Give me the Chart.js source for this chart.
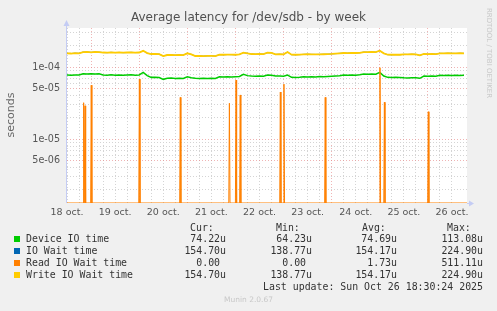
<!DOCTYPE html>
<html>
<head>
<meta charset="utf-8">
<script src="https://cdn.jsdelivr.net/npm/chart.js@4/dist/chart.umd.min.js"></script>
<style>
  body { margin: 0; background: #f0f0f0; }
  #wrap { position: relative; width: 497px; height: 311px; overflow: hidden; font-family: "DejaVu Sans", sans-serif; }
  #chart { position: absolute; left: 0; top: 0; }
  .txt { position: absolute; white-space: pre; font-weight: normal; }
  .mono { font-family: "DejaVu Sans Mono", monospace; font-size: 9.9px; color: #333; line-height: 12px; }
  .sq { position: absolute; width: 6px; height: 6px; }
</style>
</head>
<body>
<div id="wrap">
  <canvas id="chart" width="497" height="311"></canvas>
  <div class="txt" style="left:0;width:497px;top:10px;text-align:center;font-size:12px;color:#505050;">Average latency for /dev/sdb - by week</div>
  <div class="txt" style="left:-19px;top:108px;width:60px;height:14px;line-height:14px;text-align:center;font-size:11px;color:#666;transform:rotate(-90deg);">seconds</div>
  <div class="txt" style="left:441px;top:49px;width:96px;text-align:center;font-size:7px;color:#c8c8c8;transform:rotate(90deg);">RRDTOOL / TOBI OETIKER</div>
  <div class="txt" style="left:0;width:497px;top:295px;text-align:center;font-size:7.5px;color:#c8c8c8;">Munin 2.0.67</div>
  <div id="legend"></div>
</div>
<script>
// hours counted from 18 oct. 00:00, one sample every 2 hours starting at 18 oct. 12:00
const dayLabels = ['18 oct.', '19 oct.', '20 oct.', '21 oct.', '22 oct.', '23 oct.', '24 oct.', '25 oct.', '26 oct.'];
const yTickValues = [5e-6, 1e-5, 5e-5, 1e-4];
const yTickLabels = ['5e-06', '1e-05', '5e-05', '1e-04'];

const deviceIoTime = [
  7.74e-5, 7.70e-5, 7.78e-5, 7.74e-5,
  8.04e-5, 7.98e-5, 8.06e-5, 8.00e-5, 8.04e-5,
  7.76e-5, 7.70e-5, 7.80e-5, 7.72e-5, 7.78e-5, 7.68e-5, 7.75e-5, 7.80e-5, 7.72e-5, 7.76e-5,
  8.44e-5, 7.60e-5,
  7.19e-5, 7.24e-5, 7.16e-5, 6.75e-5,
  6.97e-5, 7.02e-5, 6.94e-5, 7.00e-5, 6.96e-5,
  7.33e-5, 7.10e-5,
  6.97e-5, 6.92e-5, 7.00e-5, 6.95e-5, 6.99e-5, 6.94e-5,
  7.33e-5, 7.28e-5, 7.36e-5, 7.30e-5, 7.35e-5, 7.40e-5,
  7.92e-5, 7.60e-5,
  7.50e-5, 7.46e-5, 7.54e-5, 7.48e-5,
  7.74e-5, 7.70e-5,
  7.50e-5, 7.54e-5, 7.47e-5, 7.74e-5,
  7.19e-5, 7.14e-5, 7.22e-5,
  7.33e-5, 7.28e-5, 7.36e-5, 7.30e-5, 7.38e-5, 7.32e-5, 7.40e-5, 7.45e-5, 7.52e-5, 7.58e-5,
  7.74e-5, 7.70e-5, 7.78e-5, 7.72e-5, 7.80e-5,
  7.99e-5, 7.94e-5, 8.02e-5, 7.97e-5,
  8.44e-5, 7.50e-5,
  7.19e-5, 7.15e-5, 7.22e-5, 7.17e-5,
  7.10e-5, 7.06e-5, 7.12e-5, 7.08e-5, 6.97e-5,
  7.50e-5, 7.45e-5, 7.52e-5, 7.48e-5,
  7.67e-5, 7.62e-5, 7.70e-5, 7.64e-5, 7.72e-5, 7.66e-5, 7.69e-5
];

const writeIoWaitTime = [
  1.55e-4, 1.54e-4, 1.56e-4, 1.55e-4,
  1.615e-4, 1.62e-4, 1.60e-4, 1.62e-4, 1.61e-4,
  1.59e-4, 1.58e-4, 1.60e-4, 1.585e-4, 1.595e-4, 1.58e-4, 1.59e-4, 1.60e-4, 1.585e-4, 1.59e-4,
  1.68e-4, 1.56e-4,
  1.516e-4, 1.52e-4, 1.51e-4, 1.422e-4,
  1.468e-4, 1.47e-4, 1.46e-4, 1.475e-4, 1.465e-4,
  1.55e-4, 1.50e-4,
  1.422e-4, 1.43e-4, 1.42e-4, 1.425e-4, 1.43e-4, 1.42e-4,
  1.482e-4, 1.48e-4, 1.49e-4, 1.485e-4, 1.48e-4, 1.50e-4,
  1.58e-4, 1.55e-4,
  1.516e-4, 1.51e-4, 1.52e-4, 1.515e-4,
  1.58e-4, 1.575e-4,
  1.50e-4, 1.505e-4, 1.50e-4, 1.615e-4,
  1.482e-4, 1.48e-4, 1.485e-4,
  1.50e-4, 1.505e-4, 1.50e-4, 1.495e-4, 1.50e-4, 1.505e-4, 1.51e-4, 1.52e-4, 1.535e-4, 1.55e-4,
  1.565e-4, 1.56e-4, 1.57e-4, 1.565e-4, 1.575e-4,
  1.615e-4, 1.61e-4, 1.62e-4, 1.615e-4,
  1.684e-4, 1.55e-4,
  1.482e-4, 1.48e-4, 1.485e-4, 1.48e-4,
  1.50e-4, 1.495e-4, 1.505e-4, 1.50e-4, 1.454e-4,
  1.516e-4, 1.51e-4, 1.52e-4, 1.515e-4,
  1.55e-4, 1.545e-4, 1.555e-4, 1.55e-4, 1.545e-4, 1.555e-4, 1.55e-4
];

// IO wait equals write IO wait on this disk (same stats in the legend)
const ioWaitTime = writeIoWaitTime;

// read IO wait is 0 except for short spikes
const readSpikeHours = [20.3, 21.0, 24.1, 48.1, 68.5, 93.0, 96.3, 98.4, 118.4, 120.2, 140.8, 168.1, 170.3, 192.2];
const readSpikePeaks = [3.2e-5, 2.9e-5, 5.6e-5, 6.8e-5, 3.8e-5, 3.15e-5, 6.6e-5, 4.1e-5, 4.5e-5, 5.8e-5, 3.8e-5, 9.8e-5, 3.25e-5, 2.4e-5];

const legendRows = [
  { name: 'Device IO time', color: '#00cc00', cur: '74.22u', min: '64.23u', avg: '74.69u', max: '113.08u' },
  { name: 'IO Wait time', color: '#0066b3', cur: '154.70u', min: '138.77u', avg: '154.17u', max: '224.90u' },
  { name: 'Read IO Wait time', color: '#ff8000', cur: '0.00 ', min: '0.00 ', avg: '1.73u', max: '511.11u' },
  { name: 'Write IO Wait time', color: '#ffcc00', cur: '154.70u', min: '138.77u', avg: '154.17u', max: '224.90u' }
];

const xMin = 12, xMax = 211.5;
const yMin = 1.3e-6, yMax = 3.48e-4;

const hours = deviceIoTime.map((_, i) => 12 + 2 * i);
const toPoints = arr => arr.map((v, i) => ({ x: hours[i], y: v }));

function readPoints() {
    // zero sits on the axis floor of the log scale
    const pts = [{ x: xMin, y: yMin }];
    readSpikeHours.forEach((h, i) => {
        pts.push({ x: h - 0.3, y: yMin });
        pts.push({ x: h, y: readSpikePeaks[i] });
        pts.push({ x: h + 0.3, y: yMin });
    });
    pts.push({ x: xMax, y: yMin });
    return pts;
}

function isMajorY(v) {
    return yTickValues.some(t => Math.abs(v / t - 1) < 1e-6);
}

const legend = document.getElementById('legend');
function addText(text, left, right, top, cls) {
    const el = document.createElement('div');
    el.className = 'txt ' + cls;
    el.textContent = text;
    if (left !== null) el.style.left = left + 'px';
    if (right !== null) el.style.right = (497 - right) + 'px';
    el.style.top = top + 'px';
    legend.appendChild(el);
}
addText('Cur:', 190, null, 222, 'mono');
addText('Min:', 276, null, 222, 'mono');
addText('Avg:', 362, null, 222, 'mono');
addText('Max:', 447, null, 222, 'mono');
legendRows.forEach((row, i) => {
    const top = 233 + i * 12;
    const sq = document.createElement('div');
    sq.className = 'sq';
    sq.style.left = '14px';
    sq.style.top = (top + 3) + 'px';
    sq.style.background = row.color;
    legend.appendChild(sq);
    addText(row.name, 26, null, top, 'mono');
    addText(row.cur, null, 226, top, 'mono');
    addText(row.min, null, 312, top, 'mono');
    addText(row.avg, null, 397, top, 'mono');
    addText(row.max, null, 483, top, 'mono');
});
addText('Last update: Sun Oct 26 18:30:24 2025', null, 483, 281, 'mono');

const plotDecor = {
    id: 'plotDecor',
    beforeDraw(chart) {
        const { ctx, chartArea: a } = chart;
        ctx.save();
        ctx.fillStyle = '#ffffff';
        ctx.fillRect(a.left, a.top, a.right - a.left, a.bottom - a.top);
        ctx.restore();
    },
    afterDraw(chart) {
        const { ctx, chartArea: a } = chart;
        ctx.save();
        ctx.strokeStyle = '#c4ccf4';
        ctx.fillStyle = '#c4ccf4';
        ctx.lineWidth = 1;
        ctx.beginPath();
        ctx.moveTo(a.left - 0.5, a.bottom);
        ctx.lineTo(a.left - 0.5, a.top - 3);
        ctx.moveTo(a.right, a.bottom + 0.5);
        ctx.lineTo(a.right + 3, a.bottom + 0.5);
        ctx.stroke();
        ctx.beginPath();
        ctx.moveTo(a.left - 3.5, a.top - 2);
        ctx.lineTo(a.left + 2.5, a.top - 2);
        ctx.lineTo(a.left - 0.5, a.top - 8);
        ctx.closePath();
        ctx.fill();
        ctx.beginPath();
        ctx.moveTo(a.right + 2, a.bottom - 2.5);
        ctx.lineTo(a.right + 2, a.bottom + 3.5);
        ctx.lineTo(a.right + 7, a.bottom + 0.5);
        ctx.closePath();
        ctx.fill();
        ctx.restore();
    }
};

const ctx = document.getElementById('chart').getContext('2d');
new Chart(ctx, {
    type: 'line',
    data: {
        datasets: [{
            label: 'Device IO time',
            data: toPoints(deviceIoTime),
            borderColor: '#00cc00',
            borderWidth: 1.5,
            order: 3
        }, {
            label: 'IO Wait time',
            data: toPoints(ioWaitTime),
            borderColor: '#0066b3',
            borderWidth: 0.8,
            order: 2
        }, {
            label: 'Read IO Wait time',
            data: readPoints(),
            borderColor: '#ff8000',
            borderWidth: 1,
            order: 1
        }, {
            label: 'Write IO Wait time',
            data: toPoints(writeIoWaitTime),
            borderColor: '#ffcc00',
            borderWidth: 1.8,
            order: 0
        }]
    },
    options: {
        responsive: false,
        animation: false,
        elements: { point: { radius: 0 }, line: { tension: 0 } },
        layout: { padding: { top: 28, right: 30, left: 0, bottom: 0 } },
        plugins: { legend: { display: false }, tooltip: { enabled: false } },
        scales: {
            x: {
                type: 'linear',
                min: xMin,
                max: xMax,
                afterFit: scale => { scale.height = 108; },
                afterBuildTicks: scale => {
                    const ticks = [];
                    for (let h = 12; h <= 204; h += 6) ticks.push({ value: h });
                    scale.ticks = ticks;
                },
                grid: {
                    drawTicks: false,
                    color: c => (c.tick && c.tick.value % 24 === 0) ? 'rgba(230,130,130,0.6)' : '#d4d4d4'
                },
                border: { display: false, dash: [1, 2] },
                ticks: {
                    autoSkip: false,
                    maxRotation: 0,
                    padding: 4,
                    color: '#555',
                    font: { family: 'DejaVu Sans', size: 9.5 },
                    callback: v => (v % 24 === 12) ? dayLabels[(v - 12) / 24] : ''
                }
            },
            y: {
                type: 'logarithmic',
                min: yMin,
                max: yMax,
                afterFit: scale => { scale.width = 67; },
                afterBuildTicks: scale => {
                    const ticks = [];
                    for (let e = -6; e <= -4; e++) {
                        for (let m = 1; m <= 9; m++) {
                            const v = m * Math.pow(10, e);
                            if (v > yMin && v < yMax) ticks.push({ value: v });
                        }
                    }
                    scale.ticks = ticks;
                },
                grid: {
                    drawTicks: false,
                    color: c => (c.tick && isMajorY(c.tick.value)) ? 'rgba(230,130,130,0.6)' : '#d4d4d4'
                },
                border: { display: false, dash: [1, 2] },
                ticks: {
                    autoSkip: false,
                    padding: 7,
                    color: '#555',
                    font: { family: 'DejaVu Sans', size: 9.6 },
                    callback: v => {
                        const i = yTickValues.findIndex(t => Math.abs(v / t - 1) < 1e-6);
                        return i >= 0 ? yTickLabels[i] : '';
                    }
                }
            }
        }
    },
    plugins: [plotDecor]
});
</script>
</body>
</html>
